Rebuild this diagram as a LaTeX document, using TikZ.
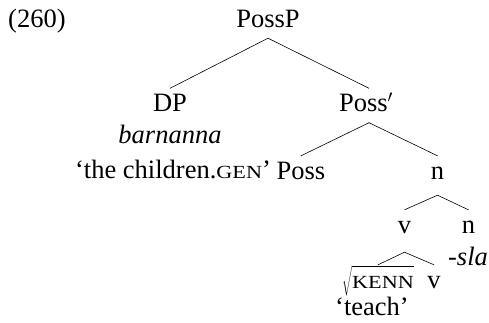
\documentclass[tikz,border=0pt]{standalone}
\usepackage{fontspec}
\setmainfont{Liberation Serif}
\usetikzlibrary{positioning}
\newcommand{\smc}[1]{\scalebox{1.2}[1]{\fontsize{18.5}{18.5}\selectfont #1}}

\begin{document}
\begin{tikzpicture}[x=1pt,y=-1pt,
  font=\fontsize{26.5}{31}\selectfont,
  cat/.style={anchor=base,inner xsep=0pt,inner ysep=5pt,text height=18pt,text depth=6pt},
  txt/.style={anchor=base,inner sep=0pt},
  edge/.style={line width=0.6pt}]
\useasboundingbox (0,0) rectangle (489,322);

\node[txt,anchor=base west] (ex) at (8,27) {(260)};

%nodes
\node[cat] (possp) at (268,27) {PossP};
\node[cat] (dp) at (170,111.5) {DP};
\node[txt] (barn) at (170,143) {\itshape barnanna};
\node[txt] (gloss) at (173,178) {`the children.\smc{GEN}'};
\node[cat] (possbar) at (366,111.5) {Poss$'$};
\node[cat] (poss) at (301,179) {Poss};
\node[cat] (n1) at (437.5,179) {n};
\node[cat] (v1) at (404.5,233) {v};
\node[cat] (n2) at (468.5,233) {n};
\node[txt] (sla) at (468,265) {\itshape -sla};
\node[cat] (root) at (378,288) {$\sqrt{\mathstrut\hbox{\smc{KENN}}}$};
\node[cat] (v2) at (434,288) {v};
\node[txt] (teach) at (372,315) {`teach'};

%branches
\draw[edge] (possp.south) -- (dp.north);
\draw[edge] (possp.south) -- ([xshift=3pt]possbar.north);
\draw[edge] ([xshift=3pt]possbar.south) -- (poss.north);
\draw[edge] ([xshift=3pt]possbar.south) -- (n1.north);
\draw[edge] ([yshift=-5pt]n1.south) -- (v1.north);
\draw[edge] ([yshift=-5pt]n1.south) -- (n2.north);
\draw[edge] ([yshift=-8pt]v1.south) -- (root.north);
\draw[edge] ([yshift=-8pt]v1.south) -- (v2.north);

\end{tikzpicture}
\end{document}
